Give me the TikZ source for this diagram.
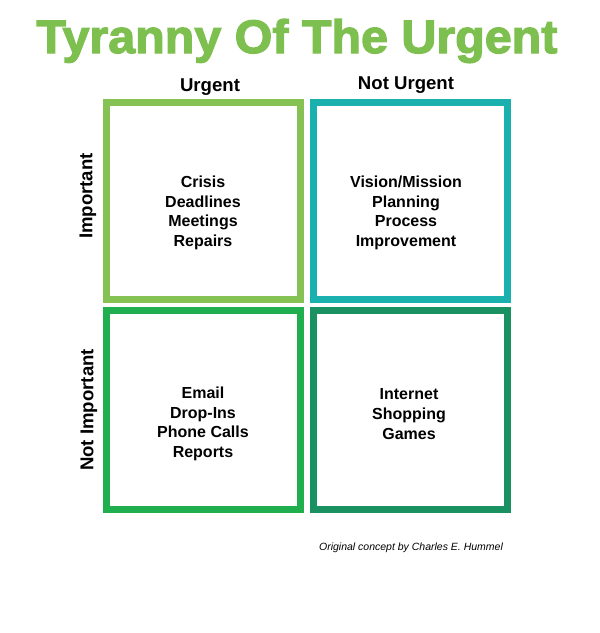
\documentclass[tikz,border=0pt]{standalone}
\usepackage{fontspec}
\setmainfont{Liberation Sans}
\newfontfamily\titlefont{Liberation Sans}[BoldFeatures={FakeBold=2.6}]
\definecolor{titlegreen}{HTML}{7DC04F}
\definecolor{qone}{HTML}{86C154}
\definecolor{qtwo}{HTML}{1AB0AE}
\definecolor{qthree}{HTML}{1FAF4E}
\definecolor{qfour}{HTML}{199160}
\tikzset{
  quad/.style={draw=#1, line width=7pt, minimum width=194pt, minimum height=197pt, inner sep=0pt, outer sep=0pt},
  body/.style={align=center, font=\fontsize{16}{19.7}\selectfont\bfseries, inner sep=0pt},
  head/.style={font=\fontsize{18.6}{22}\selectfont\bfseries, inner sep=0pt},
  credit/.style={font=\fontsize{10.5}{12}\selectfont\itshape, inner sep=0pt}
}
\begin{document}
\begin{tikzpicture}[x=1pt, y=-1pt]
\useasboundingbox (0,0) rectangle (600,633);
% title
\node[anchor=base, inner sep=0pt, text=titlegreen] (title) at (297,53)
  {\scalebox{1.03}[1]{\titlefont\bfseries\fontsize{47}{50}\selectfont Tyranny Of The Urgent}};
% column headers
\node[head, anchor=base] (hurg) at (210,91) {Urgent};
\node[head, anchor=base] (hnot) at (406,89) {Not Urgent};
% row labels
\node[head, rotate=90] (rimp) at (88,196) {Important};
\node[head, rotate=90] (rnot) at (89,410) {Not Important};
% quadrants
\node[quad=qone] (q1) at (203.5,201) {};
\node[quad=qtwo] (q2) at (410.5,201) {};
\node[quad=qthree, minimum height=199pt] (q3) at (203.5,410) {};
\node[quad=qfour, minimum height=199pt] (q4) at (410.5,410) {};
% contents
\node[body] (t1) at (203,213) {Crisis\\Deadlines\\Meetings\\Repairs};
\node[body] (t2) at (406,213) {Vision/Mission\\Planning\\Process\\Improvement};
\node[body] (t3) at (203,424) {Email\\Drop-Ins\\Phone Calls\\Reports};
\node[body] (t4) at (409,414) {Internet\\Shopping\\Games};
% credit
\node[credit, anchor=base] (cr) at (411,550) {Original concept by Charles E. Hummel};
\end{tikzpicture}
\end{document}
